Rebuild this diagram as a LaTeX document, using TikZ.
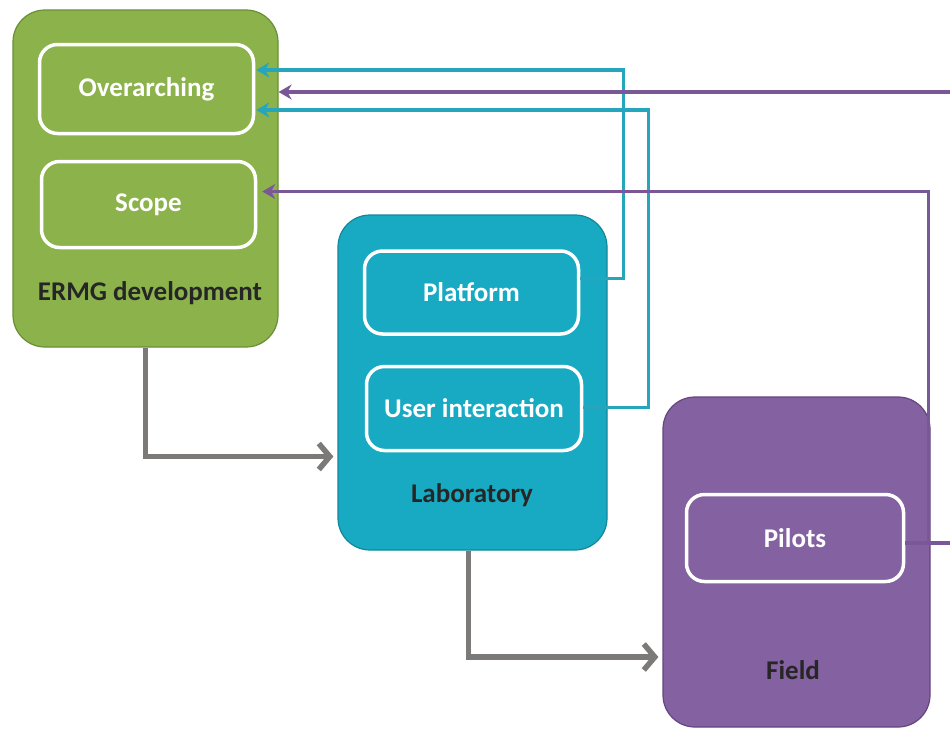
\documentclass[tikz,border=0pt]{standalone}
\usepackage{fontspec}
\setmainfont{Carlito}
\usetikzlibrary{arrows.meta,positioning}

\definecolor{ermgGreen}{HTML}{8BB24B}
\definecolor{ermgLine}{HTML}{6A8F35}
\definecolor{labTeal}{HTML}{18AAC2}
\definecolor{labLine}{HTML}{12879B}
\definecolor{fieldPurple}{HTML}{8461A0}
\definecolor{fieldLine}{HTML}{654580}
\definecolor{tealWire}{HTML}{26A6BC}
\definecolor{purpleWire}{HTML}{7A5897}
\definecolor{flowGray}{HTML}{7C7A78}

\begin{document}
\begin{tikzpicture}[x=1pt,y=-1pt]
		\tikzstyle{Stage}	= [rectangle, rounded corners=32pt, draw, line width=1.2pt, inner sep=0pt]
		\tikzstyle{Task}	= [rectangle, rounded corners=18pt, draw=white, line width=3.5pt, inner sep=0pt,
					   text=white, font=\bfseries\fontsize{27}{30}\selectfont]
		\tikzstyle{Caption}	= [font=\bfseries\fontsize{27}{30}\selectfont, text=black!85]
		\tikzstyle{Flow}	= [line width=5.5pt, flowGray, -{Straight Barb[length=11pt,width=26pt,line width=5.5pt]}]
		\tikzstyle{TW}		= [line width=3.5pt, tealWire, -{Stealth[length=13pt,width=15pt]}]
		\tikzstyle{PW}		= [line width=3.5pt, purpleWire, -{Stealth[length=13pt,width=15pt]}]

		\useasboundingbox (0,0) rectangle (950,729);

		% the three stages
		\node (ermg) at (145.5,178.5) [Stage, fill=ermgGreen, draw=ermgLine, minimum width=265pt, minimum height=337pt] {};
		\node (lab) at (472.5,382.5) [Stage, fill=labTeal, draw=labLine, minimum width=269pt, minimum height=335pt] {};
		\node (field) at (796.5,562) [Stage, fill=fieldPurple, draw=fieldLine, minimum width=267pt, minimum height=330pt] {};

		% tasks inside them
		\node (over) at (146.5,89) [Task, minimum width=214pt, minimum height=89pt] {Overarching};
		\node (scope) at (148.5,204.5) [Task, minimum width=214pt, minimum height=86pt] {Scope};
		\node (plat) at (471.5,292.5) [Task, minimum width=214pt, minimum height=83pt] {Platform};
		\node (user) at (474,408.5) [Task, minimum width=215pt, minimum height=84pt] {User interaction};
		\node (pilots) at (795,538) [Task, minimum width=217pt, minimum height=87pt] {Pilots};

		\node (ermgL) at (150,293) [Caption] {ERMG development};
		\node (labL) at (472,495) [Caption] {Laboratory};
		\node (fieldL) at (793,670) [Caption] {Field};

		% loose ends at the right rim
		\coordinate (rimTop) at (952,92);
		\coordinate (rimLow) at (952,543);

		% flow between stages
		\draw (ermg.south) |- ([yshift=-74pt,xshift=-4pt]lab.west) [Flow];
		\draw ([xshift=-4pt]lab.south) |- ([yshift=-95pt,xshift=-4pt]field.west) [Flow];

		% feedback
		\draw ([yshift=14pt]plat.east) -- ++(43,0) |- ([yshift=19pt,xshift=1pt]over.east) [TW];
		\draw ([yshift=1pt]user.east) -- ++(65,0) |- ([yshift=-21pt,xshift=1pt]over.east) [TW];
		\draw ([yshift=-5pt]pilots.east) -- ++(23,0) |- ([yshift=13pt,xshift=5pt]scope.east) [PW];
		\draw ([yshift=-5pt]pilots.east) -- (rimLow) [PW, -];
		\draw (rimTop) -- ([yshift=86.5pt]ermg.east) [PW];
	\end{tikzpicture}
\end{document}
